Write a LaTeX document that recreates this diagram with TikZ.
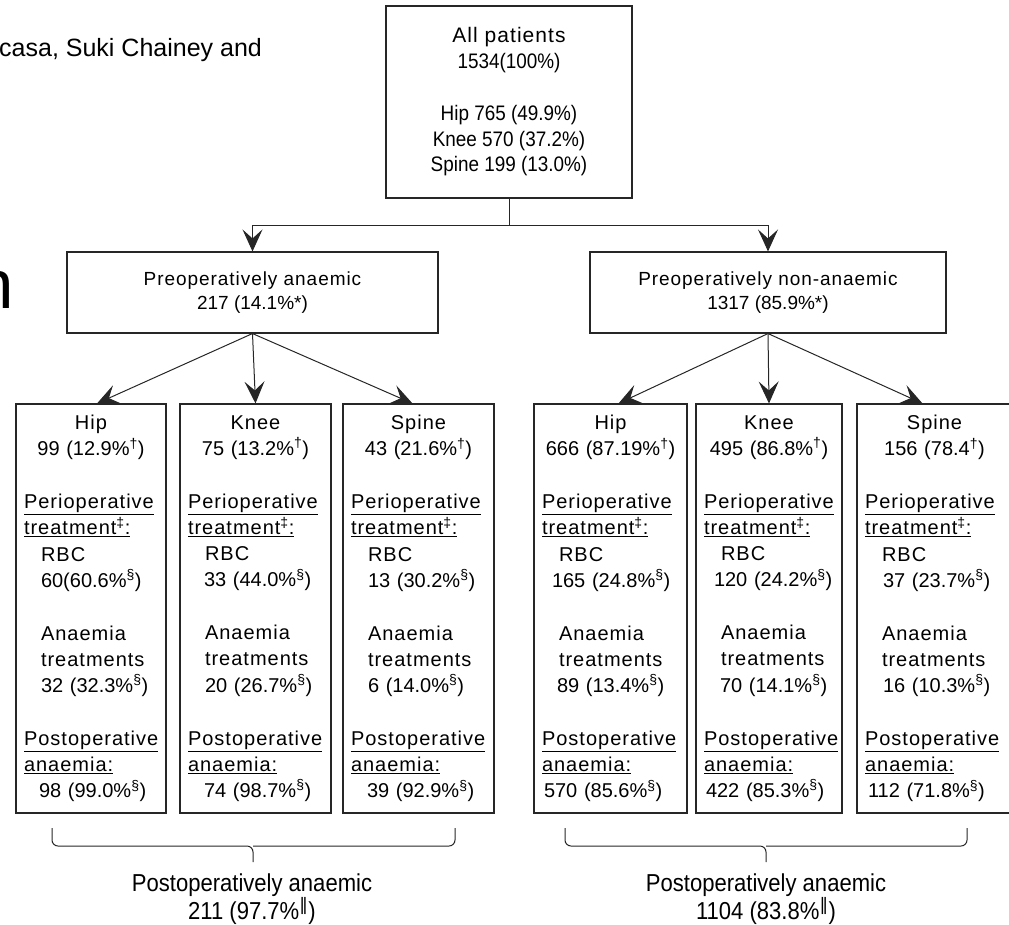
\documentclass[tikz,border=0pt]{standalone}
\usepackage{fontspec}
\setmainfont{Liberation Sans}
\newfontfamily\wordfont[LetterSpace=5]{Liberation Sans}
\newfontfamily\narrowfont[FakeStretch=0.9]{Liberation Sans}
\newfontfamily\barfont{DejaVu Sans}
\usetikzlibrary{arrows.meta, positioning}
\hyphenpenalty=10000
\exhyphenpenalty=10000
\newcommand{\numtxt}[1]{{\rmfamily #1}}

\begin{document}
\begin{tikzpicture}[
    x=1pt, y=-1pt,
    boxstyle/.style={rectangle, draw=black!85, line width=1.1pt, align=center, inner sep=0pt},
    sitebox/.style={rectangle, draw=black!85, line width=1.1pt, minimum height=409pt,
                    text width=#1, inner xsep=8pt, inner ysep=0pt, align=left,
                    font=\wordfont\fontsize{20}{26.1}\selectfont},
    flow/.style={-{Stealth[length=22pt, width=20pt, inset=9pt]}, line width=1pt, draw=black!85},
    brace/.style={line width=1pt, draw=black!85, rounded corners=6pt},
    sumtext/.style={font=\narrowfont\fontsize{24.5}{25}\selectfont, align=center}
]
\useasboundingbox (0,0) rectangle (1009,924);
\clip (0,0) rectangle (1009,924);

% page remnants
\node[anchor=base west, inner sep=0pt, font=\fontsize{25}{30}\selectfont] (author) at (-1,56) {casa, Suki Chainey and};
\node[anchor=base east, inner sep=0pt, font=\fontsize{69}{80}\selectfont] (headn) at (14,308) {n};

% top
\node[boxstyle, minimum width=246pt, minimum height=192pt,
      font=\narrowfont\fontsize{21}{25.8}\selectfont] (allp) at (509,102)
  {{\wordfont All patients}\\1534(100\%)\\[25.8pt]Hip 765 (49.9\%)\\Knee 570 (37.2\%)\\Spine 199 (13.0\%)};

% preoperative split
\node[boxstyle, minimum width=371pt, minimum height=81pt,
      font=\wordfont\fontsize{19}{24.5}\selectfont] (panaem) at (252.5,292.5)
  {Preoperatively anaemic\\\numtxt{217 (14.1\%*)}};
\node[boxstyle, minimum width=356pt, minimum height=81pt,
      font=\wordfont\fontsize{19}{24.5}\selectfont] (pnon) at (768,292.5)
  {Preoperatively non-anaemic\\\numtxt{1317 (85.9\%*)}};

% anaemic sites
\node[sitebox=134pt] (hipa) at (91,608.5) {%
  {\centering Hip\\\numtxt{99 (12.9\%\textsuperscript{†})}\par}
  \vspace{27pt}
  \underline{Perioperative}\\
  \underline{treatment\textsuperscript{‡}:}\\
  \hspace*{17pt}RBC\\
  \hspace*{17pt}\numtxt{60(60.6\%\textsuperscript{§})}\par
  \vspace{27pt}
  \hspace*{17pt}Anaemia\\
  \hspace*{17pt}treatments\\
  \hspace*{17pt}\numtxt{32 (32.3\%\textsuperscript{§})}\par
  \vspace{27pt}
  \underline{Postoperative}\\
  \underline{anaemia:}\\
  \hspace*{15pt}\numtxt{98 (99.0\%\textsuperscript{§})}};
\node[sitebox=135pt] (kneea) at (255.5,608.5) {%
  {\centering Knee\\\numtxt{75 (13.2\%\textsuperscript{†})}\par}
  \vspace{27pt}
  \underline{Perioperative}\\
  \underline{treatment\textsuperscript{‡}:}\\
  \hspace*{17pt}RBC\\
  \hspace*{16pt}\numtxt{33 (44.0\%\textsuperscript{§})}\par
  \vspace{27pt}
  \hspace*{17pt}Anaemia\\
  \hspace*{17pt}treatments\\
  \hspace*{17pt}\numtxt{20 (26.7\%\textsuperscript{§})}\par
  \vspace{27pt}
  \underline{Postoperative}\\
  \underline{anaemia:}\\
  \hspace*{16pt}\numtxt{74 (98.7\%\textsuperscript{§})}};
\node[sitebox=135pt] (spinea) at (418.5,608.5) {%
  {\centering Spine\\\numtxt{43 (21.6\%\textsuperscript{†})}\par}
  \vspace{27pt}
  \underline{Perioperative}\\
  \underline{treatment\textsuperscript{‡}:}\\
  \hspace*{17pt}RBC\\
  \hspace*{17pt}\numtxt{13 (30.2\%\textsuperscript{§})}\par
  \vspace{27pt}
  \hspace*{17pt}Anaemia\\
  \hspace*{17pt}treatments\\
  \hspace*{17pt}\numtxt{6 (14.0\%\textsuperscript{§})}\par
  \vspace{27pt}
  \underline{Postoperative}\\
  \underline{anaemia:}\\
  \hspace*{16pt}\numtxt{39 (92.9\%\textsuperscript{§})}};

% non-anaemic sites
\node[sitebox=137pt] (hipn) at (610.5,608.5) {%
  {\centering Hip\\\numtxt{666 (87.19\%\textsuperscript{†})}\par}
  \vspace{27pt}
  \underline{Perioperative}\\
  \underline{treatment\textsuperscript{‡}:}\\
  \hspace*{17pt}RBC\\
  \hspace*{10pt}\numtxt{165 (24.8\%\textsuperscript{§})}\par
  \vspace{27pt}
  \hspace*{17pt}Anaemia\\
  \hspace*{17pt}treatments\\
  \hspace*{15pt}\numtxt{89 (13.4\%\textsuperscript{§})}\par
  \vspace{27pt}
  \underline{Postoperative}\\
  \underline{anaemia:}\\
  \hspace*{2pt}\numtxt{570 (85.6\%\textsuperscript{§})}};
\node[sitebox=130pt] (kneen) at (769,608.5) {%
  {\centering Knee\\\numtxt{495 (86.8\%\textsuperscript{†})}\par}
  \vspace{27pt}
  \underline{Perioperative}\\
  \underline{treatment\textsuperscript{‡}:}\\
  \hspace*{17pt}RBC\\
  \hspace*{10pt}\numtxt{120 (24.2\%\textsuperscript{§})}\par
  \vspace{27pt}
  \hspace*{17pt}Anaemia\\
  \hspace*{17pt}treatments\\
  \hspace*{16pt}\numtxt{70 (14.1\%\textsuperscript{§})}\par
  \vspace{27pt}
  \underline{Postoperative}\\
  \underline{anaemia:}\\
  \hspace*{2pt}\numtxt{422 (85.3\%\textsuperscript{§})}};
\node[sitebox=139pt] (spinen) at (934.5,608.5) {%
  {\centering Spine\\\numtxt{156 (78.4\textsuperscript{†})}\par}
  \vspace{27pt}
  \underline{Perioperative}\\
  \underline{treatment\textsuperscript{‡}:}\\
  \hspace*{17pt}RBC\\
  \hspace*{18pt}\numtxt{37 (23.7\%\textsuperscript{§})}\par
  \vspace{27pt}
  \hspace*{17pt}Anaemia\\
  \hspace*{17pt}treatments\\
  \hspace*{18pt}\numtxt{16 (10.3\%\textsuperscript{§})}\par
  \vspace{27pt}
  \underline{Postoperative}\\
  \underline{anaemia:}\\
  \hspace*{3pt}\numtxt{112 (71.8\%\textsuperscript{§})}};

% arrows
\coordinate (split) at (509,225);
\draw[line width=1pt, draw=black!85] (allp.south) -- (split);
\draw[flow] (split) -| (panaem.north);
\draw[flow] (split) -| (pnon.north);
\draw[flow] (panaem.south) -- ([xshift=6pt]hipa.north);
\draw[flow] (panaem.south) -- (kneea.north);
\draw[flow] (panaem.south) -- ([xshift=-6pt]spinea.north);
\draw[flow] (pnon.south) -- ([xshift=8pt]hipn.north);
\draw[flow] (pnon.south) -- (kneen.north);
\draw[flow] (pnon.south) -- ([xshift=-12pt]spinen.north);

% postoperative totals
\node[sumtext] (posta) at (252,899.5) {Postoperatively anaemic\\211 (97.7\%\textsuperscript{\barfont ‖})};
\node[sumtext] (postn) at (766,899.5) {Postoperatively anaemic\\1104 (83.8\%\textsuperscript{\barfont ‖})};
\draw[brace] (52,828) |- (253,846) -- (253,862);
\draw[brace] (455,828) |- (253,846);
\draw[brace] (565,828) |- (766,846) -- (766,862);
\draw[brace] (967,828) |- (766,846);

\end{tikzpicture}
\end{document}
